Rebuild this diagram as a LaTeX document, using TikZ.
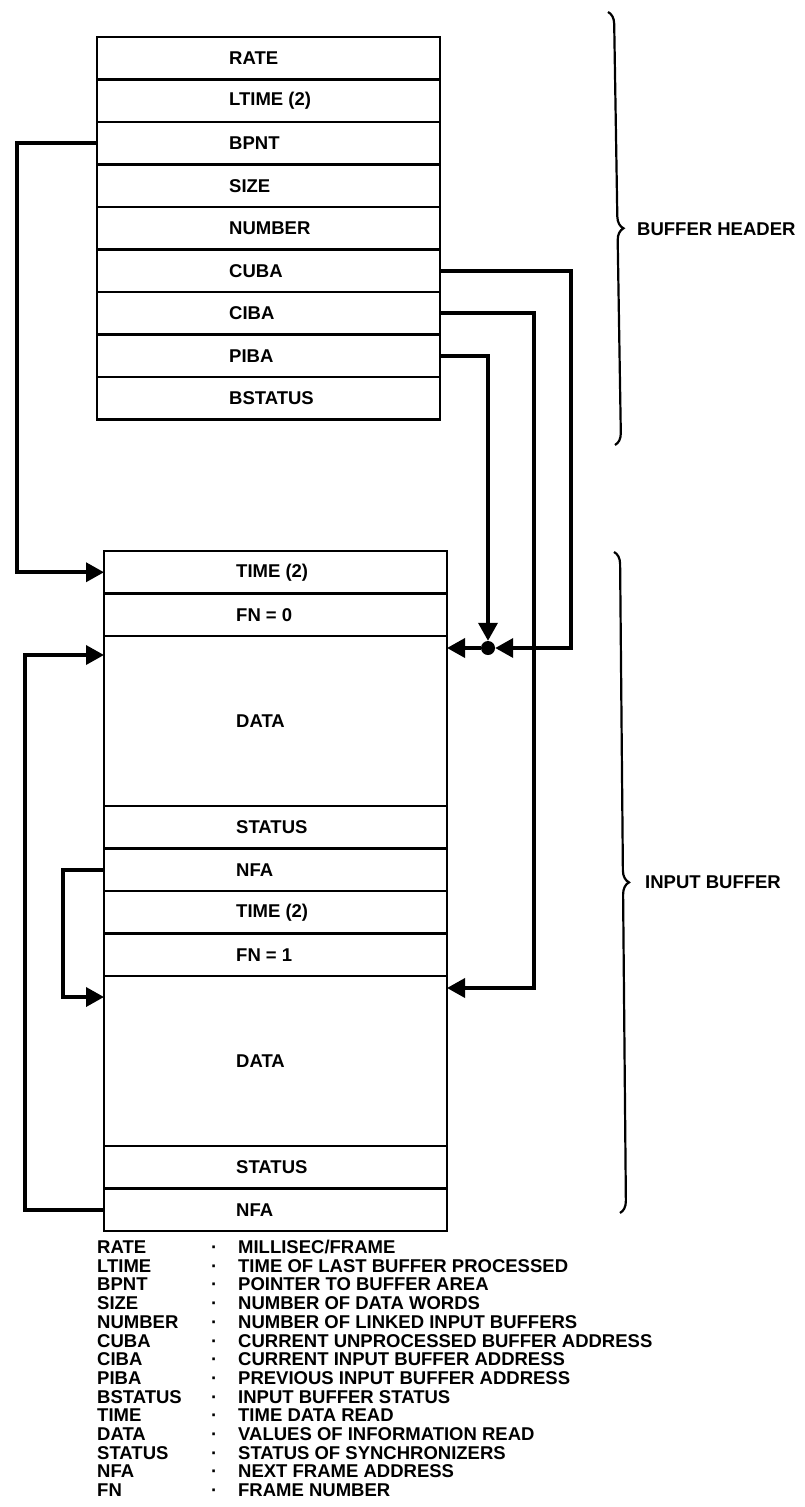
\documentclass[tikz,border=0pt]{standalone}
\usepackage{fontspec}
\setmainfont{Liberation Sans}
\usetikzlibrary{positioning, arrows.meta, decorations.pathreplacing, calc}

\tikzset{
  cell/.style={draw, line width=2.6pt, minimum width=343pt, minimum height=42.5pt,
    inner sep=0pt, outer sep=0pt, label={[celltext]west:#1}},
  celltext/.style={anchor=west, xshift=132pt, inner sep=0pt},
  wire/.style={line width=3.6pt, -{Triangle[length=18pt,width=19pt]}},
  junction/.style={circle, fill, inner sep=0pt, minimum size=14pt},
  curly/.style={decorate, decoration={brace, amplitude=12pt}, line width=2.2pt},
  sidelabel/.style={anchor=west, inner sep=0pt}
}

\begin{document}
\begin{tikzpicture}[x=1pt, y=-1pt, font=\bfseries\fontsize{18.5pt}{22pt}\selectfont]
  \useasboundingbox (0,0) rectangle (804,1507);

  % buffer header
  \node[cell=RATE] (rate) at (268.5,58.25) {};
  \node[cell={LTIME (2)}] (ltime) at (268.5,100.75) {};
  \node[cell=BPNT] (bpnt) at (268.5,143.25) {};
  \node[cell=SIZE] (size) at (268.5,185.75) {};
  \node[cell=NUMBER] (number) at (268.5,228.25) {};
  \node[cell=CUBA] (cuba) at (268.5,270.75) {};
  \node[cell=CIBA] (ciba) at (268.5,313.25) {};
  \node[cell=PIBA] (piba) at (268.5,355.75) {};
  \node[cell=BSTATUS] (bstatus) at (268.5,398.25) {};

  % input buffer, two frames
  \node[cell={TIME (2)}] (time0) at (275.5,572.25) {};
  \node[cell={FN = 0}] (fn0) at (275.5,614.75) {};
  \node[cell=DATA, minimum height=170pt] (data0) at (275.5,721) {};
  \node[cell=STATUS] (status0) at (275.5,827.25) {};
  \node[cell=NFA] (nfa0) at (275.5,869.75) {};
  \node[cell={TIME (2)}] (time1) at (275.5,912.25) {};
  \node[cell={FN = 1}] (fn1) at (275.5,954.75) {};
  \node[cell=DATA, minimum height=170pt] (data1) at (275.5,1061) {};
  \node[cell=STATUS] (status1) at (275.5,1167.25) {};
  \node[cell=NFA] (nfa1) at (275.5,1209.75) {};

  \node[junction] (jn) at (488,648) {};

  % pointers
  \begin{scope}[wire]
    \draw (bpnt.west) -- ++(-80,0) |- (time0.west);
    \draw (nfa1.west) -- ++(-79,0) |- ([yshift=-19pt]data0.north west);
    \draw (nfa0.west) -- ++(-41,0) |- ([yshift=-21pt]data1.north west);
    \draw (piba.east) -| (jn);
    \draw (cuba.east) -| ([xshift=83pt]jn.center) -- (jn);
    \draw (jn) -- (jn -| data0.east);
    \draw (ciba.east) -| ([xshift=87pt, yshift=-12pt]data1.north east)
      -- ([yshift=-12pt]data1.north east);
  \end{scope}

  % braces
  \draw[curly] (608,12) -- (615,445);
  \draw[curly] (614,552) -- (620,1213);
  \node[sidelabel] (hdrname) at (637,229) {BUFFER HEADER};
  \node[sidelabel] (inname) at (645,882) {INPUT BUFFER};

  % key
  \node[anchor=base west, inner sep=0pt] (legend) at (97,1253.5) {%
    \fontsize{18.5pt}{18.7pt}\selectfont
    \begin{tabular}[t]{@{}p{114pt}@{}p{27pt}@{}l@{}}
      RATE & · & MILLISEC/FRAME\\
      LTIME & · & TIME OF LAST BUFFER PROCESSED\\
      BPNT & · & POINTER TO BUFFER AREA\\
      SIZE & · & NUMBER OF DATA WORDS\\
      NUMBER & · & NUMBER OF LINKED INPUT BUFFERS\\
      CUBA & · & CURRENT UNPROCESSED BUFFER ADDRESS\\
      CIBA & · & CURRENT INPUT BUFFER ADDRESS\\
      PIBA & · & PREVIOUS INPUT BUFFER ADDRESS\\
      BSTATUS & · & INPUT BUFFER STATUS\\
      TIME & · & TIME DATA READ\\
      DATA & · & VALUES OF INFORMATION READ\\
      STATUS & · & STATUS OF SYNCHRONIZERS\\
      NFA & · & NEXT FRAME ADDRESS\\
      FN & · & FRAME NUMBER
    \end{tabular}};
\end{tikzpicture}
\end{document}
